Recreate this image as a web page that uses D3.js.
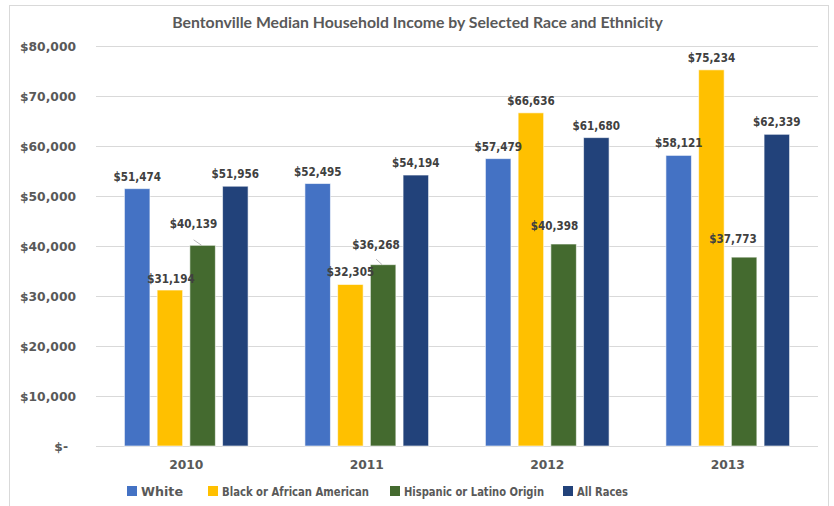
<!DOCTYPE html>
<html><head><meta charset="utf-8">
<script src="https://cdn.jsdelivr.net/npm/d3@7"></script>
<style>html,body{margin:0;padding:0;background:#fff;}svg{display:block;}</style>
</head><body>
<svg id="chart" width="834" height="506"></svg>
<script>
const years = ["2010", "2011", "2012", "2013"];
const seriesNames = ["White", "Black or African American", "Hispanic or Latino Origin", "All Races"];
const white = [51474, 52495, 57479, 58121];
const black = [31194, 32305, 66636, 75234];
const hispanic = [40139, 36268, 40398, 37773];
const allRaces = [51956, 54194, 61680, 62339];
const yTicks = [0, 10000, 20000, 30000, 40000, 50000, 60000, 70000, 80000];
const colors = ["#4472C4", "#FFC000", "#446A2F", "#22427A"];
const title = "Bentonville Median Household Income by Selected Race and Ethnicity";

const seriesValues = [white, black, hispanic, allRaces];
// label displacement (as in the original, where a few labels were moved)
const labelShift = {"2010|2": [-9, -9, true], "2011|2": [-7, -8, true], "2012|2": [-9, -6, false], "2013|2": [-11, -6, false], "2010|1": [1, 1, false]};
// legend layout
const legendX = [127, 208, 390, 563];
const legendTextW = [42, 147, 140, 51];

(function(){
const svg = d3.select("#chart");
const pLeft = 96, pRight = 818, pTop = 46, pBottom = 446;
const condensed = "'DejaVu Sans Condensed', 'DejaVu Sans', sans-serif";
const dejavu = "'DejaVu Sans', Verdana, sans-serif";

svg.append("rect").attr("x", 9.5).attr("y", 5.5).attr("width", 819).attr("height", 520)
  .attr("fill", "#fff").attr("stroke", "#d9d9d9");

svg.append("text").attr("x", 417.5).attr("y", 28).attr("text-anchor", "middle")
  .attr("font-family", "Lato, 'Open Sans', sans-serif").attr("font-weight", "bold")
  .attr("font-size", 14.5).attr("fill", "#595959").text(title)
  .each(function(){ const w = this.getComputedTextLength(); if (w > 0) d3.select(this).attr("font-size", 14.5 * 491 / w); });

const y = d3.scaleLinear().domain([0, 80000]).range([pBottom, pTop]);
const x0 = d3.scaleBand().domain(years).range([pLeft, pRight]).paddingInner(0.275).paddingOuter(0.1375);
const x1 = d3.scaleBand().domain(d3.range(4)).range([0, x0.bandwidth()]).paddingInner(0.22).paddingOuter(0.11);

const fmt = d3.format(",");
const money = v => v === 0 ? "$-" : "$" + fmt(v);

// gridlines
svg.append("g").selectAll("line").data(yTicks).join("line")
  .attr("x1", pLeft).attr("x2", pRight)
  .attr("y1", d => Math.round(y(d)) + 0.5).attr("y2", d => Math.round(y(d)) + 0.5)
  .attr("stroke", "#d9d9d9").attr("stroke-width", 1);

// y axis labels
const yAxis = d3.axisLeft(y).tickValues(yTicks).tickFormat(money).tickSize(0).tickPadding(0);
const ga = svg.append("g").attr("transform", `translate(76,0)`).call(yAxis);
ga.select(".domain").remove();
ga.selectAll("text").attr("font-family", dejavu).attr("font-weight", "bold")
  .attr("font-size", 12.3).attr("fill", "#595959").attr("dy", "0.35em")
  .attr("dx", d => d === 0 ? -8 : 0);

// x axis labels
const xAxis = d3.axisBottom(x0).tickSize(0).tickPadding(0);
const gx = svg.append("g").attr("transform", `translate(0,${pBottom})`).call(xAxis);
gx.select(".domain").remove();
gx.selectAll("text").attr("font-family", dejavu).attr("font-weight", "bold")
  .attr("font-size", 12.3).attr("fill", "#595959").attr("y", 23).attr("dy", 0);

// bars
const data = [];
years.forEach((yr, i) => seriesValues.forEach((vals, s) => data.push({year: yr, s, v: vals[i]})));
svg.append("g").selectAll("rect").data(data).join("rect")
  .attr("x", d => x0(d.year) + x1(d.s))
  .attr("y", d => y(d.v))
  .attr("width", x1.bandwidth())
  .attr("height", d => pBottom - y(d.v))
  .attr("fill", d => colors[d.s])
  .attr("stroke", "rgba(255,255,255,0.6)").attr("stroke-width", 1);

// leader lines
const lg = svg.append("g");
data.forEach(d => {
  const sh = labelShift[d.year + "|" + d.s];
  if (sh && sh[2]) {
    const cx = x0(d.year) + x1(d.s) + x1.bandwidth() / 2;
    lg.append("line").attr("x1", cx + sh[0]).attr("y1", y(d.v) - 5.5).attr("x2", cx - 1).attr("y2", y(d.v))
      .attr("stroke", "#a6a6a6").attr("stroke-width", 0.8);
  }
});

// data labels
svg.append("g").selectAll("text").data(data).join("text")
  .attr("x", d => x0(d.year) + x1(d.s) + x1.bandwidth() / 2 + ((labelShift[d.year + "|" + d.s] || [0, 0])[0]))
  .attr("y", d => y(d.v) - 8 + ((labelShift[d.year + "|" + d.s] || [0, 0])[1]))
  .attr("text-anchor", "middle")
  .attr("font-family", condensed).attr("font-weight", "bold")
  .attr("font-size", 12).attr("fill", "#404040")
  .text(d => money(d.v))
  .each(function(){ const w = this.getComputedTextLength(); if (w > 48) d3.select(this).attr("textLength", 47.5).attr("lengthAdjust", "spacingAndGlyphs"); });

// legend
const lgd = svg.append("g");
seriesNames.forEach((n, i) => {
  lgd.append("rect").attr("x", legendX[i]).attr("y", 486).attr("width", 10).attr("height", 10).attr("fill", colors[i]);
  lgd.append("text").attr("x", legendX[i] + 14).attr("y", 495.5)
    .attr("font-family", dejavu).attr("font-weight", "bold")
    .attr("font-size", 12.5).attr("fill", "#595959").text(n)
    .attr("textLength", legendTextW[i]).attr("lengthAdjust", "spacingAndGlyphs");
});
})();
</script>
</body></html>
